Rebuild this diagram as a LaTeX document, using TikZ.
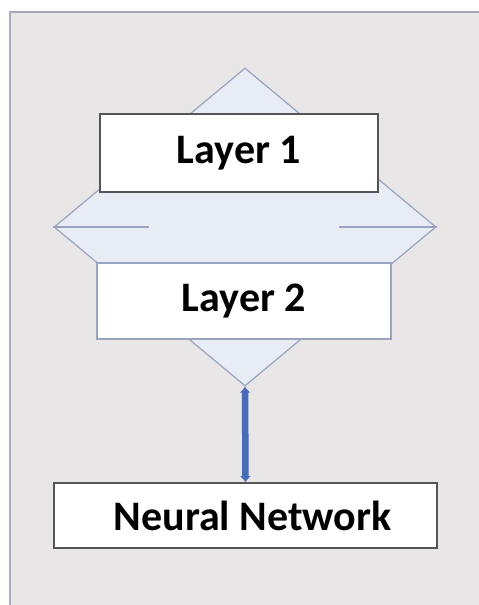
\documentclass[tikz,border=0pt]{standalone}
\usepackage{fontspec}
\setmainfont{Carlito}
\usetikzlibrary{arrows.meta,shapes.geometric}

\definecolor{panelgray}{HTML}{E8E6E6}
\definecolor{panelline}{HTML}{A7A9BA}
\definecolor{hubblue}{HTML}{E8ECF5}
\definecolor{hubline}{HTML}{9AA3BD}
\definecolor{darkline}{HTML}{555558}
\definecolor{arrowblue}{HTML}{4A6CB8}

\begin{document}
\begin{tikzpicture}[x=1pt,y=-1pt,
    layer/.style={draw=darkline,rectangle,fill=white,line width=1.6pt,inner sep=0pt,
      font=\fontsize{42}{50}\selectfont\bfseries}]

  \useasboundingbox (0,0) rectangle (479,605);
  \fill[panelgray] (10,12) rectangle (479,605);
  \draw[panelline,line width=1.5pt] (10,605) -- (10,12) -- (479,12);

  \node[diamond,draw=hubline,fill=hubblue,line width=1.2pt,inner sep=0pt,
    minimum width=382pt,minimum height=318pt](hub) at (245,227){};
  \draw[hubline,line width=1.2pt] (hub.west) -- +(96,0);
  \draw[hubline,line width=1.2pt] (hub.east) -- +(-98,0);

  \node[layer,minimum width=278pt,minimum height=78pt](l1) at (239,153){Layer 1};
  \node[layer,draw=hubline,minimum width=294pt,minimum height=76pt](l2) at (244,301){Layer 2};
  \node[layer,minimum width=383pt,minimum height=65pt](nn) at (245.5,515.5){\hspace{14pt}Neural Network};

  \draw[arrowblue,line width=6.5pt,{Latex[length=6pt,width=11pt]}-{Latex[length=6pt,width=11pt]}]
    (hub.south) -- (nn.north);
\end{tikzpicture}
\end{document}
